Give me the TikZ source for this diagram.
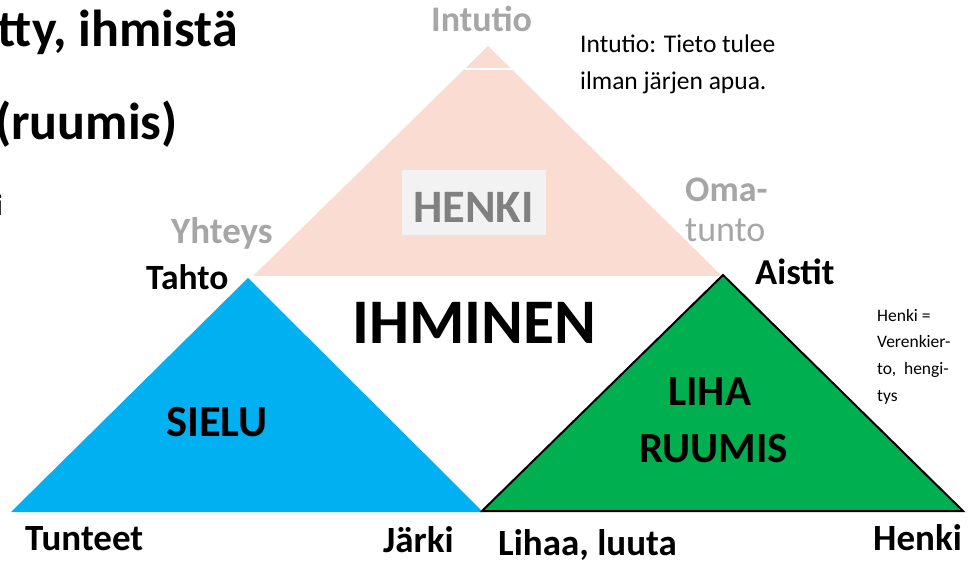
\documentclass[tikz,border=0pt]{standalone}
\usepackage{fontspec}
\setmainfont{Carlito}
\definecolor{pinkf}{RGB}{250,220,210}
\definecolor{bluef}{RGB}{0,176,240}
\definecolor{greenf}{RGB}{0,176,80}
\definecolor{graytxt}{RGB}{166,166,166}
\definecolor{boxgray}{RGB}{242,242,242}
\definecolor{henkigray}{RGB}{128,128,128}
\newcommand\myfs[1]{\fontsize{#1}{#1}\selectfont}
\begin{document}
\begin{tikzpicture}[x=1pt,y=-1pt,
  lbl/.style={inner sep=0pt, anchor=base west, font=\bfseries},
  lblr/.style={inner sep=0pt, anchor=base east, font=\bfseries},
  reg/.style={inner sep=0pt, anchor=base west}]
\useasboundingbox (0,0) rectangle (978,564);
\clip (0,0) rectangle (978,564);
% shapes
\coordinate (pa) at (488,46);
\coordinate (pl) at (253,276);
\coordinate (pr) at (722,276);
\fill[pinkf] (pa) -- (pr) -- (pl) -- cycle;
\draw[white, line width=2] (465,69) -- (512,69);
\coordinate (ba) at (248,278);
\coordinate (bl) at (11,512);
\coordinate (br) at (483,512);
\fill[bluef] (ba) -- (br) -- (bl) -- cycle;
\coordinate (ga) at (723,275);
\coordinate (gl) at (482,511);
\coordinate (gr) at (963,511);
\filldraw[fill=greenf, draw=black, line width=2, line join=miter] (ga) -- (gr) -- (gl) -- cycle;
\node[fill=boxgray, minimum width=144, minimum height=65, anchor=north west, inner sep=0] (hbox) at (402,170) {};
\node[lbl, text=henkigray, font=\bfseries\myfs{46.5}] (henki) at (413,223) {HENKI};
% left clipped title
\node[lblr, font=\bfseries\myfs{52}] (t1) at (238,47) {tty, ihmistä};
\node[lblr, font=\bfseries\myfs{52}] (t2) at (178,140) {(ruumis)};
\node[lblr, font=\bfseries\myfs{30}] (t3) at (3,216) {i};
% labels
\node[lbl, text=graytxt, font=\bfseries\myfs{36}] (intutio) at (431,32) {Intutio};
\node[reg, font=\myfs{25.5}] (n1) at (580,53) {Intutio: Tieto tulee};
\node[reg, font=\myfs{25.5}] (n2) at (580,90) {ilman järjen apua.};
\node[lbl, text=graytxt, font=\bfseries\myfs{37}] (yhteys) at (171,244) {Yhteys};
\node[lbl, font=\bfseries\myfs{35.5}] (tahto) at (146,290) {Tahto};
\node[lbl, text=graytxt, font=\bfseries\myfs{36}] (oma) at (685,202) {Oma-};
\node[reg, text=graytxt, font=\myfs{36}] (tunto) at (685,242) {tunto};
\node[lbl, font=\bfseries\myfs{36.5}] (aistit) at (755,285) {Aistit};
\node[lbl, font=\bfseries\myfs{63.5}] (ihm) at (352,344) {IHMINEN};
\node[lbl, font=\bfseries\myfs{44.5}] (sielu) at (166,436) {SIELU};
\node[lbl, font=\bfseries\myfs{43}] (liha) at (668,405) {LIHA};
\node[lbl, font=\bfseries\myfs{43}] (ruumis) at (639,462) {RUUMIS};
\node[reg, font=\myfs{17.5}] (h1) at (877,322) {Henki =};
\node[reg, font=\myfs{17.5}] (h2) at (877,348) {Verenkier-};
\node[reg, font=\myfs{17.5}] (h3) at (877,374) {to,\ \ hengi-};
\node[reg, font=\myfs{17.5}] (h4) at (877,401) {tys};
\node[lbl, font=\bfseries\myfs{37}] (tunteet) at (25,550) {Tunteet};
\node[lbl, font=\bfseries\myfs{37}] (jarki) at (383,552) {Järki};
\node[lbl, font=\bfseries\myfs{37}] (lihaa) at (498,555) {Lihaa, luuta};
\node[lbl, font=\bfseries\myfs{37}] (henkib) at (873,550) {Henki};
\end{tikzpicture}
\end{document}
